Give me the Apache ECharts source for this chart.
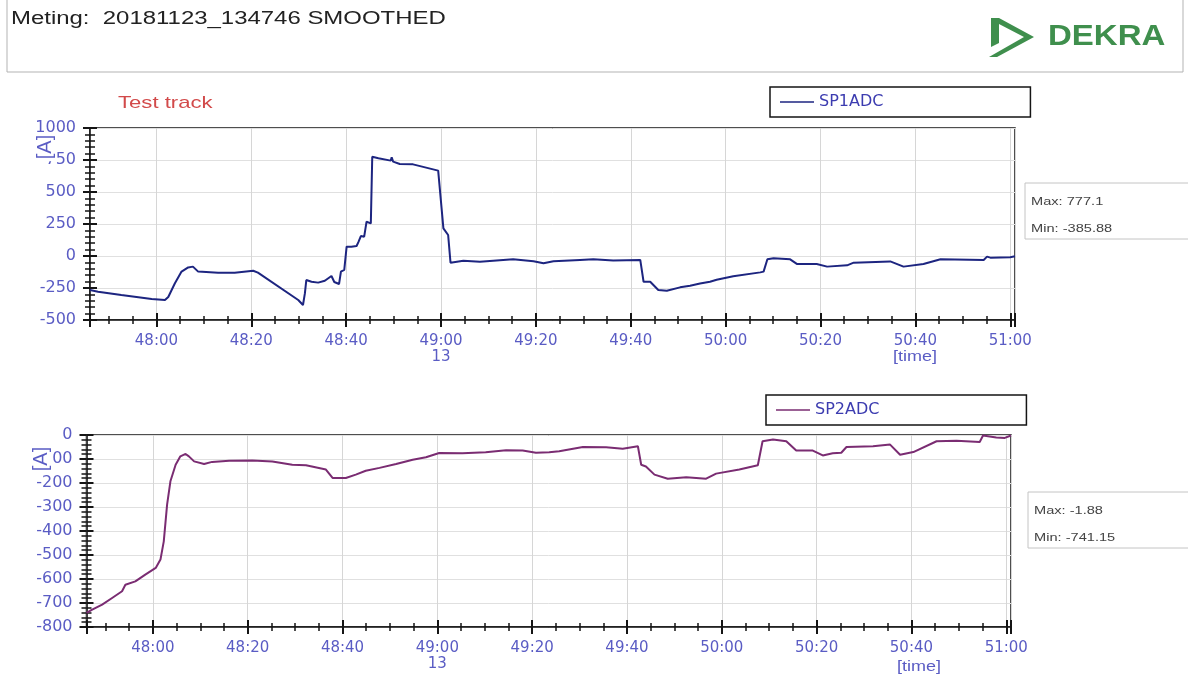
<!DOCTYPE html>
<html><head><meta charset="utf-8">
<script src="https://cdn.jsdelivr.net/npm/echarts@6/dist/echarts.min.js"></script>
<style>html,body{margin:0;padding:0;background:#fff}#c{width:1188px;height:677px}</style>
</head><body><div id="c"></div>
<script>
// time axis: seconds after 13:48:00
const xTickValues = [0, 20, 40, 60, 80, 100, 120, 140, 160, 180];
const xTickLabels = ['48:00', '48:20', '48:40', '49:00', '49:20', '49:40', '50:00', '50:20', '50:40', '51:00'];
const hourMarkValue = 60;
const hourMarkLabel = '13';

const sp1Time = [-14, -12.3, -7.4, -1.0, 1.8, 2.5, 3.9, 5.3, 6.7, 7.7, 8.8, 13.0, 16.5, 20.4, 21.4, 29.9, 30.9, 31.3, 31.6, 32.7, 34.1, 35.5, 36.9, 37.5, 38.5, 38.9, 39.6, 40.1, 41.1, 42.2, 42.6, 43.1, 43.8, 44.3, 45.2, 45.5, 46.8, 49.4, 49.6, 49.9, 51.3, 54.1, 59.4, 60.5, 61.5, 62.0, 64.7, 68.2, 75.2, 79.5, 81.6, 83.7, 89.3, 92.1, 96.3, 102.0, 102.7, 104.1, 105.8, 107.6, 110.4, 112.5, 114.6, 116.7, 118.1, 121.6, 127.3, 128.0, 128.8, 130.1, 133.6, 135.0, 139.2, 141.4, 145.6, 147.0, 154.7, 157.5, 161.7, 165.3, 174.4, 175.1, 175.8, 180.0, 181];
const sp1Val = [-266, -279, -305, -336, -344, -320, -213, -122, -89, -83, -122, -130, -130, -115, -130, -344, -383, -292, -188, -201, -208, -193, -156, -203, -219, -122, -109, 73, 73, 78, 110, 156, 151, 268, 255, 776, 763, 745, 771, 737, 719, 716, 667, 216, 164, -52, -37, -44, -26, -41, -57, -41, -31, -26, -36, -31, -201, -201, -266, -271, -245, -232, -215, -201, -185, -158, -128, -122, -26, -18, -26, -62, -62, -83, -73, -52, -42, -83, -62, -26, -31, -5, -13, -10, -2];

const sp2Time = [-14, -12.8, -10.7, -8.6, -6.5, -5.8, -3.7, -1.6, 0.6, 1.6, 2.3, 3.0, 3.7, 4.8, 5.8, 6.9, 7.6, 8.7, 10.8, 12.5, 16.1, 21.0, 25.2, 29.4, 32.3, 36.5, 37.9, 40.7, 42.8, 44.9, 47.8, 51.3, 54.8, 57.6, 60.4, 65.3, 70.2, 74.5, 78.0, 80.8, 83.6, 85.7, 90.7, 95.6, 99.1, 102.3, 103.0, 104.0, 105.8, 108.6, 112.5, 116.7, 118.8, 123.7, 127.6, 128.6, 130.8, 133.6, 135.7, 139.2, 141.3, 143.4, 145.2, 146.3, 151.9, 155.5, 157.6, 160.4, 165.3, 169.5, 174.4, 175.1, 177.9, 179.7, 181];
const sp2Val = [-741, -728, -707, -679, -651, -624, -610, -582, -554, -519, -443, -290, -193, -124, -89, -79, -89, -110, -121, -112, -107, -106, -110, -124, -126, -144, -179, -179, -165, -149, -137, -121, -103, -93, -75, -76, -72, -64, -65, -74, -72, -68, -50, -51, -57, -47, -124, -131, -165, -182, -176, -182, -161, -144, -126, -26, -19, -26, -65, -65, -85, -76, -74, -50, -47, -40, -82, -71, -26, -24, -29, -2, -10, -12, -2];

const seriesNames = ['SP1ADC', 'SP2ADC'];
const sp1Stats = ['Max: 777.1', 'Min: -385.88'];
const sp2Stats = ['Max: -1.88', 'Min: -741.15'];
const titleText = 'Meting:  20181123_134746 SMOOTHED';
const subTitle = 'Test track';

const blue = '#5a5cc4';
const dark = '#151515';
const zip = (a, b) => a.map((t, i) => [t, b[i]]);

function xFmt(v) {
  const i = xTickValues.findIndex(t => Math.abs(t - v) < 1e-6);
  if (i < 0) return '';
  return xTickLabels[i] + (xTickValues[i] === hourMarkValue ? '\n' + hourMarkLabel : '');
}

function xAxes(grid) {
  const base = { type: 'value', gridIndex: grid, position: 'bottom', min: -14, max: 181, minInterval: 20, maxInterval: 20, splitNumber: 10 };
  return [
    Object.assign({}, base, {
      axisLine: { show: true, onZero: false, lineStyle: { color: dark, width: 1.5 } },
      axisTick: { show: true, length: 7, lineStyle: { color: dark, width: 2 } },
      minorTick: { show: true, splitNumber: 4, length: 4, lineStyle: { color: dark, width: 1.5 } },
      axisLabel: { formatter: xFmt, color: blue, fontSize: 15, fontFamily: 'DejaVu Sans', margin: 13, lineHeight: 16, showMinLabel: true, showMaxLabel: true },
      splitLine: { show: true, lineStyle: { color: '#d6d6d6', width: 1 } }
    }),
    Object.assign({}, base, {
      axisLine: { show: false, onZero: false },
      axisTick: { show: true, inside: true, length: 7, lineStyle: { color: dark, width: 2 } },
      minorTick: { show: true, splitNumber: 4, length: 4, lineStyle: { color: dark, width: 1.5 } },
      axisLabel: { show: false },
      splitLine: { show: false }
    })
  ];
}
function yAxes(grid, min, max, interval) {
  const base = { type: 'value', gridIndex: grid, position: 'left', min: min, max: max, interval: interval };
  return [
    Object.assign({}, base, {
      axisLine: { show: true, onZero: false, lineStyle: { color: dark, width: 1.5 } },
      axisTick: { show: true, length: 7, lineStyle: { color: dark, width: 2 } },
      minorTick: { show: true, splitNumber: 5, length: 5, lineStyle: { color: dark, width: 1.5 } },
      axisLabel: { color: blue, fontSize: 16, fontFamily: 'DejaVu Sans', margin: 14, formatter: v => String(v) },
      splitLine: { show: true, lineStyle: { color: '#e0e0e0', width: 1 } }
    }),
    Object.assign({}, base, {
      axisLine: { show: false, onZero: false },
      axisTick: { show: true, inside: true, length: 7, lineStyle: { color: dark, width: 2 } },
      minorTick: { show: true, splitNumber: 5, length: 5, lineStyle: { color: dark, width: 1.5 } },
      axisLabel: { show: false },
      splitLine: { show: false }
    })
  ];
}

function statBox(x, y, lines) {
  return [
    { type: 'rect', shape: { x: x, y: y, width: 175, height: 56 }, style: { fill: '#fff', stroke: '#c4c4c4', lineWidth: 1 }, z: 1 },
    { type: 'text', x: x + 6, y: y + 19, scaleX: 1.27, style: { text: lines[0], font: '11.5px "Liberation Sans"', fill: '#444', verticalAlign: 'middle' }, z: 2 },
    { type: 'text', x: x + 6, y: y + 46, scaleX: 1.27, style: { text: lines[1], font: '11.5px "Liberation Sans"', fill: '#444', verticalAlign: 'middle' }, z: 2 }
  ];
}
function legendCfg(name, left, top) {
  return {
    data: [name], left: left, top: top, orient: 'horizontal', selectedMode: false,
    padding: [7, 147, 7, 10], borderColor: dark, borderWidth: 1.5, borderRadius: 0,
    itemWidth: 34, itemHeight: 1.6, icon: 'rect',
    textStyle: { color: '#3c3cb0', fontSize: 16, fontFamily: 'DejaVu Sans' }
  };
}

const chart = echarts.init(document.getElementById('c'), null, { renderer: 'canvas' });
const option = {
  animation: false,
  backgroundColor: '#fff',
  grid: [
    { left: 90, top: 128, width: 925, height: 192, show: true, borderColor: dark, borderWidth: 1.5, containLabel: false },
    { left: 86.5, top: 435, width: 924.5, height: 192, show: true, borderColor: dark, borderWidth: 1.5, containLabel: false }
  ],
  xAxis: xAxes(0).concat(xAxes(1)),
  yAxis: yAxes(0, -500, 1000, 250).concat(yAxes(1, -800, 0, 100)),
  legend: [legendCfg(seriesNames[0], 770, 87), legendCfg(seriesNames[1], 766, 395)],
  series: [
    { name: seriesNames[0], type: 'line', xAxisIndex: 0, yAxisIndex: 0, data: zip(sp1Time, sp1Val), showSymbol: false, symbol: 'none',
      lineStyle: { color: '#1d2580', width: 2 }, itemStyle: { color: '#1d2580' }, z: 3 },
    { name: seriesNames[1], type: 'line', xAxisIndex: 2, yAxisIndex: 2, data: zip(sp2Time, sp2Val), showSymbol: false, symbol: 'none',
      lineStyle: { color: '#7a2c72', width: 2 }, itemStyle: { color: '#7a2c72' }, z: 3 }
  ],
  graphic: [
    { type: 'rect', shape: { x: 7, y: -1, width: 1176, height: 73 }, style: { fill: 'none', stroke: '#b3b3b3', lineWidth: 1 } },
    { type: 'text', x: 11, y: 19, scaleX: 1.33, style: { text: titleText, font: '18px "Liberation Sans"', fill: '#222', verticalAlign: 'middle' } },
    { type: 'polygon', shape: { points: [[991, 18], [999, 18], [1034, 37], [997, 57], [989, 57], [1024, 37], [999, 24], [999, 43], [991, 47]] }, style: { fill: '#3f8f4d' } },
    { type: 'text', x: 1048, y: 37, scaleX: 1.1, style: { text: 'DEKRA', font: 'bold 30px "Liberation Sans"', fill: '#3f8f4d', verticalAlign: 'middle' } },
    { type: 'text', x: 118, y: 103, scaleX: 1.3, style: { text: subTitle, font: '17px "Liberation Sans"', fill: '#d24a4a', verticalAlign: 'middle' } },
    { type: 'text', x: 45, y: 147, rotation: Math.PI / 2, style: { text: '[A]', font: '20px "Liberation Sans"', fill: blue, align: 'center', verticalAlign: 'middle', backgroundColor: '#fff', padding: [0, 2] }, z: 10 },
    { type: 'text', x: 41, y: 459, rotation: Math.PI / 2, style: { text: '[A]', font: '20px "Liberation Sans"', fill: blue, align: 'center', verticalAlign: 'middle', backgroundColor: '#fff', padding: [0, 2] }, z: 10 },
    { type: 'text', x: 915, y: 357, scaleX: 1.2, style: { text: '[time]', font: '15px "Liberation Sans"', fill: blue, align: 'center', verticalAlign: 'middle' } },
    { type: 'text', x: 919, y: 667, scaleX: 1.2, style: { text: '[time]', font: '15px "Liberation Sans"', fill: blue, align: 'center', verticalAlign: 'middle' } }
  ].concat(statBox(1025, 183, sp1Stats)).concat(statBox(1028, 492, sp2Stats))
};
chart.setOption(option);
</script>
</body></html>
